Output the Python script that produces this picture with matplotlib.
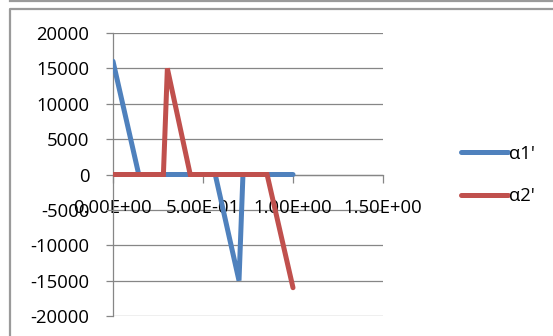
import matplotlib
matplotlib.use("Agg")
import matplotlib.pyplot as plt
from matplotlib.lines import Line2D
from matplotlib.ticker import FuncFormatter

# Series data
x_a1 = [0.0, 0.143, 0.286, 0.429, 0.568, 0.700, 0.722, 0.857, 1.0]
a1 = [16000, 0, 0, 0, 0, -15000, 0, 0, 0]
x_a2 = [0.0, 0.143, 0.280, 0.302, 0.429, 0.571, 0.714, 0.856, 1.0]
a2 = [0, 0, 0, 15000, 0, 0, 0, 0, -16000]
series_names = ["α1'", "α2'"]

x_ticks = [0.0, 0.5, 1.0, 1.5]
y_ticks = [20000, 15000, 10000, 5000, 0, -5000, -10000, -15000, -20000]

blue = "#4F81BD"
red = "#C0504D"
grid_gray = "#868686"

plt.rcParams["font.family"] = ["Open Sans", "DejaVu Sans"]
plt.rcParams["axes.unicode_minus"] = False
fs = 13.3

W, H = 553, 336
fig = plt.figure(figsize=(W / 100, H / 100), dpi=100)

# Outer chart frame
fig.add_artist(Line2D([10 / W, 1], [1 - 1 / H, 1 - 1 / H], color="#9a9a9a", lw=1.6))
fig.add_artist(Line2D([10 / W, 10 / W, 1], [0, 1 - 8.5 / H, 1 - 8.5 / H],
                      color="#9a9a9a", lw=1.6))

ax = fig.add_axes([113 / W, 1 - 316 / H, (383 - 113) / W, (316 - 33) / H])
ax.set_xlim(0, 1.5)
ax.set_ylim(-20000, 20000)

for v in y_ticks:
    ax.axhline(v, color=grid_gray, lw=0.9, zorder=1)

ax.plot(x_a1, a1, color=blue, lw=3.6, label=series_names[0], zorder=3,
        solid_joinstyle="miter", solid_capstyle="round")
ax.plot(x_a2, a2, color=red, lw=3.6, label=series_names[1], zorder=3,
        solid_joinstyle="miter", solid_capstyle="round")

for s in ["top", "right"]:
    ax.spines[s].set_visible(False)
ax.spines["left"].set_color(grid_gray)
ax.spines["left"].set_linewidth(0.9)
ax.spines["bottom"].set_position(("data", 0))
ax.spines["bottom"].set_color(grid_gray)
ax.spines["bottom"].set_linewidth(0.9)
ax.spines["bottom"].set_zorder(2)

ax.set_yticks(y_ticks)
ax.set_xticks(x_ticks)
ax.xaxis.set_major_formatter(FuncFormatter(lambda v, p: f"{v:.2E}"))
ax.tick_params(axis="y", direction="out", length=5, width=0.9, color=grid_gray,
               pad=12, labelsize=fs)
ax.tick_params(axis="x", direction="out", length=5.5, width=0.9, color=grid_gray,
               pad=12, labelsize=fs)

fig.legend(loc="center left", bbox_to_anchor=(452 / W, 1 - 175 / H),
           frameon=False, fontsize=fs, handlelength=2.55, handletextpad=0.05,
           labelspacing=1.35, borderpad=0)

fig.savefig("out.png", dpi=100)
